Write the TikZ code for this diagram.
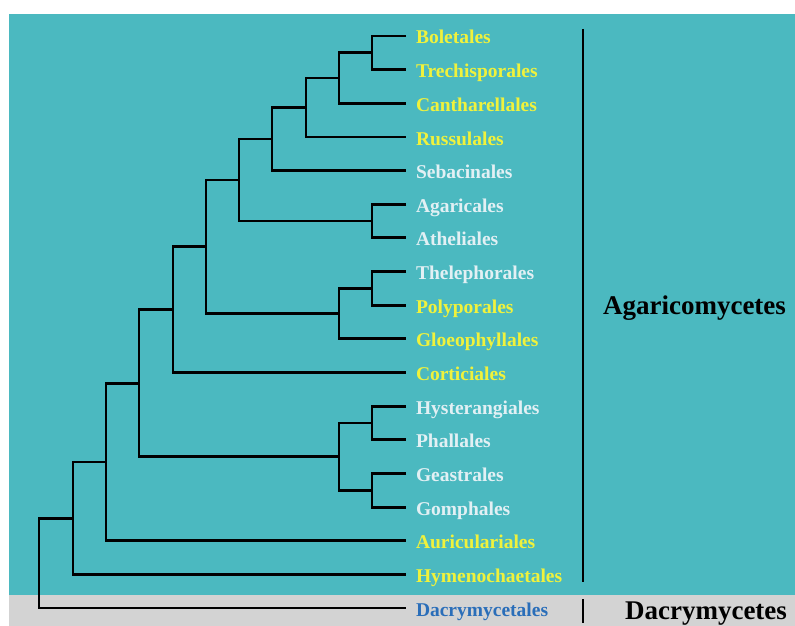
\documentclass[tikz,border=0pt]{standalone}
\usepackage{fontspec}
\setmainfont{Liberation Serif}
\definecolor{tealbg}{RGB}{75,185,192}
\definecolor{greybg}{RGB}{211,211,211}
\definecolor{leafyellow}{RGB}{240,242,60}
\definecolor{leafwhite}{RGB}{226,240,244}
\definecolor{leafblue}{RGB}{42,110,185}
\tikzset {
  % tip labels of the tree
  leaf/.style = {anchor=west, inner xsep=10pt, inner ysep=0pt, outer sep=0pt,
    text height=16pt, text depth=0pt, font=\fontsize{19.5}{20}\selectfont\bfseries},
  yel/.style = {leaf, text=leafyellow},
  wht/.style = {leaf, text=leafwhite},
  blu/.style = {leaf, text=leafblue},
  % class names on the right
  clade/.style = {anchor=base, inner sep=0pt, font=\fontsize{27}{28}\selectfont\bfseries},
  branch/.style = {line width=2.9pt},
  bar/.style = {line width=2.9pt},
}

\begin{document}
\begin{tikzpicture}[x=1pt, y=-1pt]
      \useasboundingbox (0,0) rectangle (795,626);
      \fill[tealbg] (9,14) rectangle (795,595);
      \fill[greybg] (9,595) rectangle (795,626);

      \node[yel] (bol) at (406,36) {Boletales};
      \node[yel] (tre) at (406,69.7) {Trechisporales};
      \node[yel] (can) at (406,103.3) {Cantharellales};
      \node[yel] (rus) at (406,137) {Russulales};
      \node[wht] (seb) at (406,170.6) {Sebacinales};
      \node[wht] (aga) at (406,204.3) {Agaricales};
      \node[wht] (ath) at (406,237.9) {Atheliales};
      \node[wht] (the) at (406,271.6) {Thelephorales};
      \node[yel] (pol) at (406,305.2) {Polyporales};
      \node[yel] (glo) at (406,338.9) {Gloeophyllales};
      \node[yel] (cor) at (406,372.5) {Corticiales};
      \node[wht] (hys) at (406,406.2) {Hysterangiales};
      \node[wht] (pha) at (406,439.8) {Phallales};
      \node[wht] (gea) at (406,473.5) {Geastrales};
      \node[wht] (gom) at (406,507.1) {Gomphales};
      \node[yel] (aur) at (406,540.8) {Auriculariales};
      \node[yel] (hym) at (406,574.4) {Hymenochaetales};
      \node[blu] (dac) at (406,608) {Dacrymycetales};

      % inner nodes of the tree
      \coordinate (c1) at (372,52.8);
      \coordinate (c2) at (339,78);
      \coordinate (c3) at (306,107.5);
      \coordinate (c4) at (272,139);
      \coordinate (c5) at (372,221);
      \coordinate (c6) at (239,180);
      \coordinate (c7) at (372,288.4);
      \coordinate (c8) at (339,313.6);
      \coordinate (c9) at (206,246.8);
      \coordinate (c10) at (173,309.7);
      \coordinate (c11) at (372,423);
      \coordinate (c12) at (372,490.3);
      \coordinate (c13) at (339,456.7);
      \coordinate (c14) at (139,383.2);
      \coordinate (c15) at (106,462);
      \coordinate (c16) at (73,518.2);
      \coordinate (c17) at (39,563);

      \draw[branch] (bol.west) -| (c1) |- (tre.west);
      \draw[branch] (c1) -| (c2) |- (can.west);
      \draw[branch] (c2) -| (c3) |- (rus.west);
      \draw[branch] (c3) -| (c4) |- (seb.west);
      \draw[branch] (aga.west) -| (c5) |- (ath.west);
      \draw[branch] (c4) -| (c6) |- (c5);
      \draw[branch] (the.west) -| (c7) |- (pol.west);
      \draw[branch] (c7) -| (c8) |- (glo.west);
      \draw[branch] (c6) -| (c9) |- (c8);
      \draw[branch] (c9) -| (c10) |- (cor.west);
      \draw[branch] (hys.west) -| (c11) |- (pha.west);
      \draw[branch] (gea.west) -| (c12) |- (gom.west);
      \draw[branch] (c11) -| (c13) |- (c12);
      \draw[branch] (c10) -| (c14) |- (c13);
      \draw[branch] (c14) -| (c15) |- (aur.west);
      \draw[branch] (c15) -| (c16) |- (hym.west);
      \draw[branch] (c16) -| (c17) |- (dac.west);

      \coordinate (agtop) at (583,29);
      \coordinate (agbot) at (583,582);
      \coordinate (dctop) at (583,599);
      \coordinate (dcbot) at (583,623);
      \draw[bar] (agtop) -- (agbot);
      \draw[bar] (dctop) -- (dcbot);

      \node[clade] (agc) at (694.5,314) {Agaricomycetes};
      \node[clade] (dcc) at (706,619) {Dacrymycetes};
\end{tikzpicture}
\end{document}
